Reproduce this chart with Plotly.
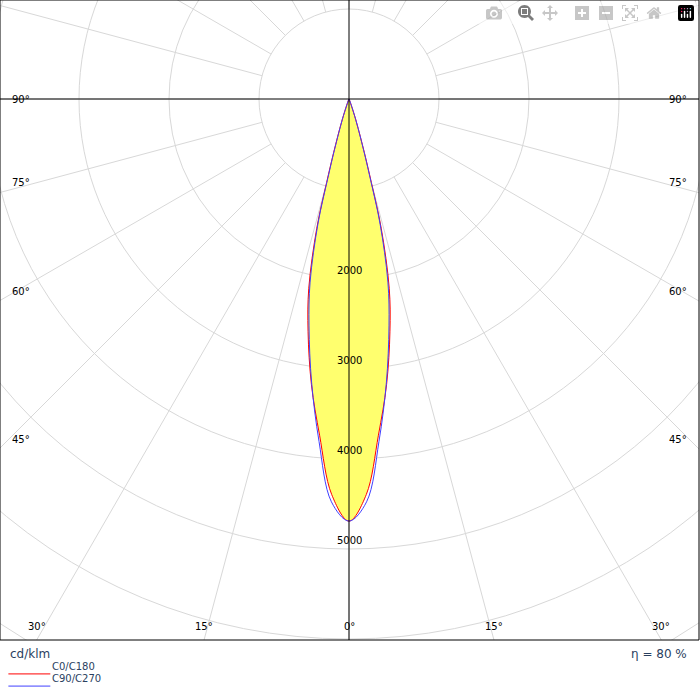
import numpy as np
import plotly.graph_objects as go

# gamma angles (deg) and intensities (cd/klm)
gamma = [0, 2.5, 5, 7.5, 10, 12, 14, 15, 16, 18, 20, 25, 30, 90]
c0_c180 = [4690, 4400, 3750, 3200, 2620, 2150, 1480, 960, 620, 260, 80, 10, 0, 0]
c90_c270 = [4690, 4480, 3820, 3180, 2560, 2080, 1420, 900, 580, 240, 70, 10, 0, 0]
rings = [1000, 2000, 3000, 4000, 5000, 6000, 7000, 8000, 9000, 10000]
ring_labels = [2000, 3000, 4000, 5000]
angle_ticks = [0, 15, 30, 45, 60, 75, 90]

S = 0.09  # px per cd/klm
xr = [-349 / S, 350 / S]
yr = [-541 / S, 99 / S]


def curve(vals):
    g = np.radians(np.array(gamma))
    v = np.array(vals)
    gg = np.concatenate([g, -g[::-1]])
    vv = np.concatenate([v, v[::-1]])
    return vv * np.sin(gg), -vv * np.cos(gg)


fig = go.Figure()

# spokes every 15 deg, from first ring outward
for a in range(0, 360, 15):
    t = np.radians(a)
    fig.add_trace(go.Scatter(x=[1000 * np.sin(t), 12000 * np.sin(t)],
                             y=[-1000 * np.cos(t), -12000 * np.cos(t)],
                             mode="lines", line=dict(color="#d8d8d8", width=1),
                             hoverinfo="skip", showlegend=False))

for r in rings:
    fig.add_shape(type="circle", x0=-r, x1=r, y0=-r, y1=r,
                  line=dict(color="#d8d8d8", width=1), layer="below")

fig.add_hline(y=0, line=dict(color="black", width=1))
fig.add_vline(x=0, line=dict(color="black", width=1))

xa, ya = curve(c0_c180)
fig.add_trace(go.Scatter(x=xa, y=ya, mode="lines", fill="toself",
                         fillcolor="rgba(255,255,110,1)", line_shape="spline",
                         line=dict(color="red", width=1), showlegend=False))
xb, yb = curve(c90_c270)
fig.add_trace(go.Scatter(x=xb, y=yb, mode="lines", line_shape="spline",
                         line=dict(color="#4040ff", width=1), showlegend=False))

font = dict(family="DejaVu Sans", size=10, color="black")
for v in ring_labels:
    fig.add_annotation(x=0, y=-v, text=str(v), showarrow=False, yshift=9, font=font)

for a in angle_ticks:
    t = np.radians(a)
    if a >= 45:
        yv = -xr[1] / np.tan(t) if a < 90 else 0
        fig.add_annotation(x=xr[0], y=yv, text=f"{a}°", showarrow=False, xanchor="left",
                           xshift=10, yshift=0 if a == 90 else 10, font=font)
        fig.add_annotation(x=xr[1], y=yv, text=f"{a}°", showarrow=False, xanchor="right",
                           xshift=-10, yshift=0 if a == 90 else 10, font=font)
    else:
        xv = -yr[0] * np.tan(t)
        for s in ([1] if a == 0 else [-1, 1]):
            fig.add_annotation(x=s * xv, y=yr[0], text=f"{a}°", showarrow=False,
                               yshift=14, font=font)

# footer
fig.add_annotation(xref="paper", yref="paper", x=0.012, y=-0.008, text="cd/klm",
                   showarrow=False, xanchor="left", yanchor="top",
                   font=dict(family="DejaVu Sans", size=12))
fig.add_annotation(xref="paper", yref="paper", x=0.985, y=-0.008, text="η = 80 %",
                   showarrow=False, xanchor="right", yanchor="top",
                   font=dict(family="DejaVu Sans", size=12))
for i, (name, col) in enumerate([("C0/C180", "red"), ("C90/C270", "#4040ff")]):
    yp = -0.053 - i * 0.019
    fig.add_shape(type="line", xref="paper", yref="paper", x0=0.012, x1=0.072,
                  y0=yp, y1=yp, line=dict(color=col, width=1))
    fig.add_annotation(xref="paper", yref="paper", x=0.072, y=yp, text=name,
                       showarrow=False, xanchor="left", font=dict(family="DejaVu Sans", size=10))

fig.update_layout(width=700, height=700, margin=dict(l=0, r=1, t=0, b=60),
                  plot_bgcolor="white", paper_bgcolor="white",
                  xaxis=dict(range=xr, visible=False, showgrid=False, zeroline=False),
                  yaxis=dict(range=yr, visible=False, showgrid=False, zeroline=False),
                  shapes=list(fig.layout.shapes) + [dict(type="rect", xref="paper", yref="paper",
                                                         x0=0, x1=1, y0=0, y1=1,
                                                         line=dict(color="black", width=1))])

fig.write_html("out.html", post_script="document.body.style.margin='0';")
